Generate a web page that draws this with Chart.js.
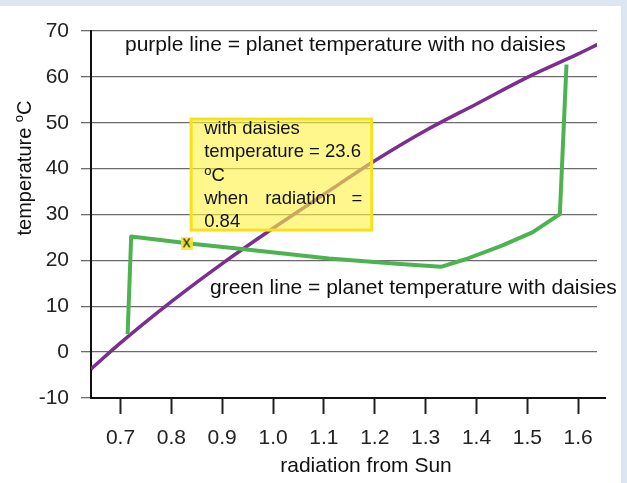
<!DOCTYPE html>
<html>
<head>
<meta charset="utf-8">
<script src="https://cdn.jsdelivr.net/npm/chart.js@4.4.1/dist/chart.umd.min.js"></script>
<style>
  html, body { margin: 0; padding: 0; background: #fff; }
  #wrap { width: 627px; height: 483px; }
</style>
</head>
<body>
<div id="wrap"><canvas id="chart" width="627" height="483"></canvas></div>
<script>
// x axis tick values (radiation from Sun)
const xTicks = [0.7, 0.8, 0.9, 1.0, 1.1, 1.2, 1.3, 1.4, 1.5, 1.6];

// purple line: planet temperature with no daisies
const purpleX = [0.642, 0.7, 0.8, 0.9, 1.0, 1.1, 1.2, 1.3, 1.4, 1.5, 1.6, 1.639];
const purpleY = [-3.7, 2.0, 11.0, 19.3, 27.0, 34.4, 41.7, 48.3, 54.1, 59.9, 65.0, 67.1];

// green line: planet temperature with daisies
const greenX = [0.714, 0.721, 0.84, 0.93, 1.11, 1.25, 1.33, 1.38, 1.45, 1.51, 1.564, 1.577];
const greenY = [3.9, 25.2, 23.6, 22.6, 20.4, 19.2, 18.6, 20.3, 23.2, 26.1, 30.1, 62.7];

// the marked point
const markX = [0.83];
const markY = [23.6];

const FONT = "'Liberation Sans', Arial, sans-serif";

function toPoints(xs, ys) {
    return xs.map((x, i) => ({ x: x, y: ys[i] }));
}

// little yellow tag with an "x" on it, used as the point style of the marker
function makeMarker() {
    const c = document.createElement("canvas");
    c.width = 12;
    c.height = 13;
    const g = c.getContext("2d");
    g.fillStyle = "rgba(250, 232, 40, 0.85)";
    g.fillRect(0, 0, 12, 13);
    g.fillStyle = "#111";
    g.font = "16px " + FONT;
    g.textAlign = "center";
    g.textBaseline = "middle";
    g.fillText("x", 6, 5.5);
    return c;
}

const notes = {
    id: "notes",
    beforeDraw(chart) {
        const ctx = chart.ctx;
        ctx.save();
        ctx.fillStyle = "#dce5f2";
        ctx.fillRect(0, 0, chart.width, chart.height);
        ctx.fillStyle = "#fff";
        ctx.fillRect(0, 6, chart.width - 6, chart.height - 6);
        ctx.restore();
    },
    afterDatasetsDraw(chart) {
        const ctx = chart.ctx;
        const xs = chart.scales.x;
        const ys = chart.scales.y;
        const area = chart.chartArea;
        ctx.save();

        // yellow note box
        const bx = xs.getPixelForValue(0.839);
        const bx2 = xs.getPixelForValue(1.194);
        const by = ys.getPixelForValue(50.8);
        const by2 = ys.getPixelForValue(26.6);
        ctx.fillStyle = "rgba(255, 240, 70, 0.62)";
        ctx.fillRect(bx, by, bx2 - bx, by2 - by);
        ctx.strokeStyle = "#f4e31c";
        ctx.lineWidth = 3;
        ctx.strokeRect(bx, by, bx2 - bx, by2 - by);

        ctx.fillStyle = "#111";
        ctx.textBaseline = "middle";
        ctx.textAlign = "left";
        ctx.font = "18.5px " + FONT;
        const tx = bx + 13;
        const txR = tx + 158;
        ctx.fillText("with daisies", tx, by + 10);
        ctx.fillText("temperature = 23.6", tx, by + 33);
        ctx.font = "13px " + FONT;
        ctx.fillText("o", tx, by + 52);
        const ow = ctx.measureText("o").width;
        ctx.font = "18.5px " + FONT;
        ctx.fillText("C", tx + ow, by + 57);
        ctx.fillText("when", tx, by + 80);
        ctx.fillText("radiation", tx + 61, by + 80);
        ctx.textAlign = "right";
        ctx.fillText("=", txR, by + 80);
        ctx.textAlign = "left";
        ctx.fillText("0.84", tx, by + 103);

        // line labels
        ctx.font = "21px " + FONT;
        ctx.fillText("purple line = planet temperature with no daisies", 125, 45);
        ctx.fillText("green line = planet temperature with daisies", 210, 288);

        // x axis title
        ctx.textAlign = "center";
        ctx.fillText("radiation from Sun", 366, 466);

        // y axis title, rotated, with raised small o
        ctx.translate(25, 168);
        ctx.rotate(-Math.PI / 2);
        ctx.font = "20px " + FONT;
        const t1 = "temperature ";
        const w1 = ctx.measureText(t1).width;
        const wc = ctx.measureText("C").width;
        ctx.font = "13px " + FONT;
        const wo = ctx.measureText("o").width;
        let sx = -(w1 + wo + wc) / 2;
        ctx.textAlign = "left";
        ctx.font = "20px " + FONT;
        ctx.fillText(t1, sx, 0);
        ctx.font = "13px " + FONT;
        ctx.fillText("o", sx + w1, -6);
        ctx.font = "20px " + FONT;
        ctx.fillText("C", sx + w1 + wo, 0);
        ctx.restore();

        // x axis line runs a bit past the plot
        ctx.save();
        ctx.strokeStyle = "#111";
        ctx.lineWidth = 2;
        ctx.beginPath();
        ctx.moveTo(area.right - 1, area.bottom);
        ctx.lineTo(area.right + 9, area.bottom);
        ctx.stroke();
        ctx.restore();
    }
};

const ctx = document.getElementById("chart");

new Chart(ctx, {
    type: "line",
    data: {
        datasets: [
            {
                label: "marker",
                data: toPoints(markX, markY),
                showLine: false,
                pointStyle: makeMarker(),
                order: 0,
            },
            {
                label: "no daisies",
                data: toPoints(purpleX, purpleY),
                borderColor: "#7b2d90",
                borderWidth: 3.5,
                pointRadius: 0,
                cubicInterpolationMode: "monotone",
                order: 2,
            },
            {
                label: "with daisies",
                data: toPoints(greenX, greenY),
                borderColor: "#4db351",
                borderWidth: 4,
                pointRadius: 0,
                tension: 0,
                borderJoinStyle: "round",
                order: 1,
            },
        ],
    },
    options: {
        responsive: false,
        animation: false,
        layout: { padding: { left: 0, right: 30, top: 31, bottom: 0 } },
        plugins: {
            legend: { display: false },
            tooltip: { enabled: false },
        },
        scales: {
            x: {
                type: "linear",
                min: 0.642,
                max: 1.637,
                afterBuildTicks(scale) {
                    scale.ticks = xTicks.map((v) => ({ value: v }));
                },
                afterFit(scale) {
                    scale.height = 85;
                },
                ticks: {
                    color: "#222",
                    font: { family: FONT, size: 21 },
                    padding: 12,
                    maxRotation: 0,
                    autoSkip: false,
                    callback: (v) => Number(v).toFixed(1),
                },
                grid: {
                    drawOnChartArea: false,
                    drawTicks: true,
                    tickLength: 16,
                    tickColor: "#222",
                    tickWidth: 2,
                },
                border: { display: true, color: "#111", width: 2 },
            },
            y: {
                min: -10,
                max: 70,
                afterFit(scale) {
                    scale.width = 91;
                },
                ticks: {
                    stepSize: 10,
                    color: "#222",
                    font: { family: FONT, size: 21 },
                    padding: 12,
                },
                grid: {
                    color: "#6b6b6b",
                    lineWidth: 1.3,
                    tickLength: 10,
                },
                border: { display: true, color: "#111", width: 2 },
            },
        },
    },
    plugins: [notes],
});
</script>
</body>
</html>
